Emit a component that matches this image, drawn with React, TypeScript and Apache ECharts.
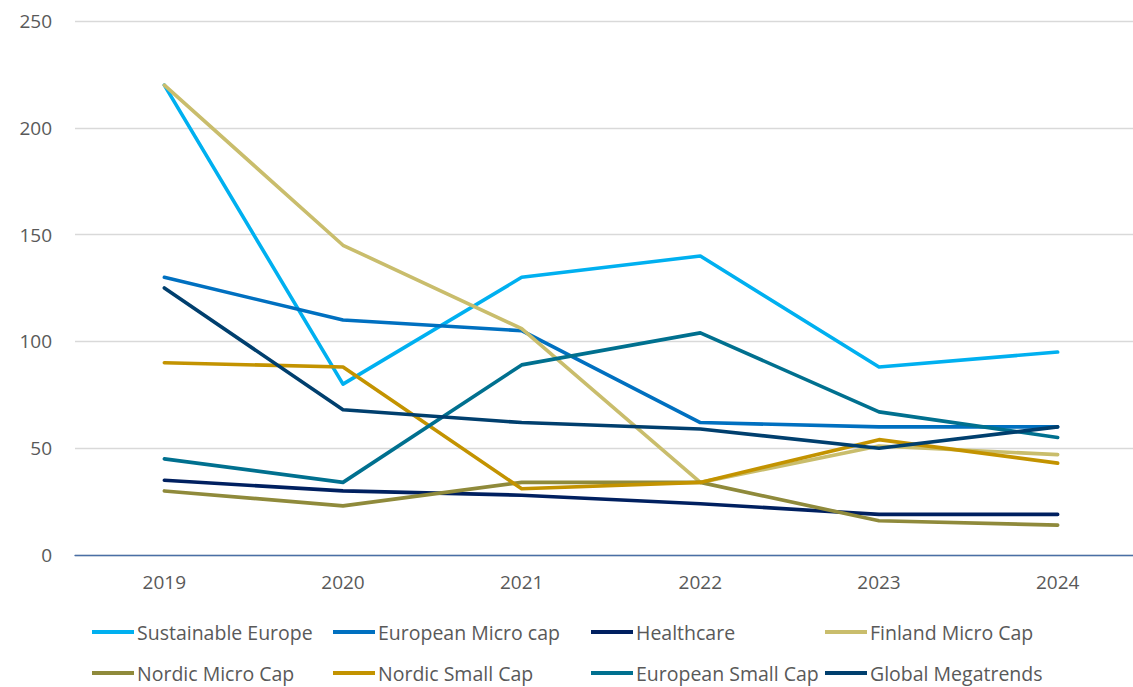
import React, { useEffect, useRef } from "react";
import * as echarts from "echarts";

const years = ["2019", "2020", "2021", "2022", "2023", "2024"];
const yTicks = [0, 50, 100, 150, 200, 250];

const sustainableEurope = [220, 80, 130, 140, 88, 95];
const europeanMicroCap = [130, 110, 105, 62, 60, 60];
const healthcare = [35, 30, 28, 24, 19, 19];
const finlandMicroCap = [220, 145, 106, 34, 51, 47];
const nordicMicroCap = [30, 23, 34, 34, 16, 14];
const nordicSmallCap = [90, 88, 31, 34, 54, 43];
const europeanSmallCap = [45, 34, 89, 104, 67, 55];
const globalMegatrends = [125, 68, 62, 59, 50, 60];

const seriesDefs = [
  { name: "Sustainable Europe", data: sustainableEurope, color: "#00B0F0" },
  { name: "European Micro cap", data: europeanMicroCap, color: "#0070C0" },
  { name: "Healthcare", data: healthcare, color: "#002060" },
  { name: "Finland Micro Cap", data: finlandMicroCap, color: "#C9BD6C" },
  { name: "Nordic Micro Cap", data: nordicMicroCap, color: "#8F8A3B" },
  { name: "Nordic Small Cap", data: nordicSmallCap, color: "#C39300" },
  { name: "European Small Cap", data: europeanSmallCap, color: "#00708F" },
  { name: "Global Megatrends", data: globalMegatrends, color: "#003F6E" },
];

const legendCols = [92, 333, 591, 825];
const legendRows = [622, 663];

const FONT = "'Open Sans', sans-serif";
const TEXT = "#595959";

export default function App() {
  const ref = useRef<HTMLDivElement>(null);
  useEffect(() => {
    if (!ref.current) return;
    const chart = echarts.init(ref.current, null, { renderer: "svg" });
    const legends = seriesDefs.map((s, i) => ({
      data: [s.name],
      left: legendCols[i % 4],
      top: legendRows[Math.floor(i / 4)],
      padding: 0,
      icon: "rect",
      itemWidth: 42,
      itemHeight: 4,
      textStyle: { color: TEXT, fontSize: 19.5, fontFamily: FONT, padding: [0, 0, 0, -2] },
    }));
    chart.setOption({
      animation: false,
      legend: legends,
      grid: { left: 75, top: 21, width: 1072, height: 534, containLabel: false },
      xAxis: {
        type: "category",
        data: years,
        boundaryGap: true,
        axisLine: { show: true, lineStyle: { color: "#4A6FA5", width: 1.3 } },
        axisTick: { show: false },
        axisLabel: { color: TEXT, fontSize: 19, fontFamily: FONT, margin: 17 },
      },
      yAxis: {
        type: "value",
        min: yTicks[0],
        max: yTicks[yTicks.length - 1],
        interval: 50,
        axisLine: { show: false },
        axisTick: { show: false },
        splitLine: { lineStyle: { color: "#D9D9D9", width: 1.3 } },
        axisLabel: { color: TEXT, fontSize: 19, fontFamily: FONT, margin: 23 },
      },
      series: seriesDefs.map((s) => ({
        name: s.name,
        type: "line",
        data: s.data,
        symbol: "none",
        color: s.color,
        lineStyle: { width: 3.6, color: s.color, cap: "round", join: "round" },
      })),
    });
    return () => chart.dispose();
  }, []);
  return (
    <div style={{ position: "absolute", left: 0, top: 0, width: 1133, height: 687, overflow: "hidden", background: "#fff" }}>
      <div ref={ref} style={{ position: "absolute", left: 0, top: 0, width: 1160, height: 687 }} />
    </div>
  );
}
